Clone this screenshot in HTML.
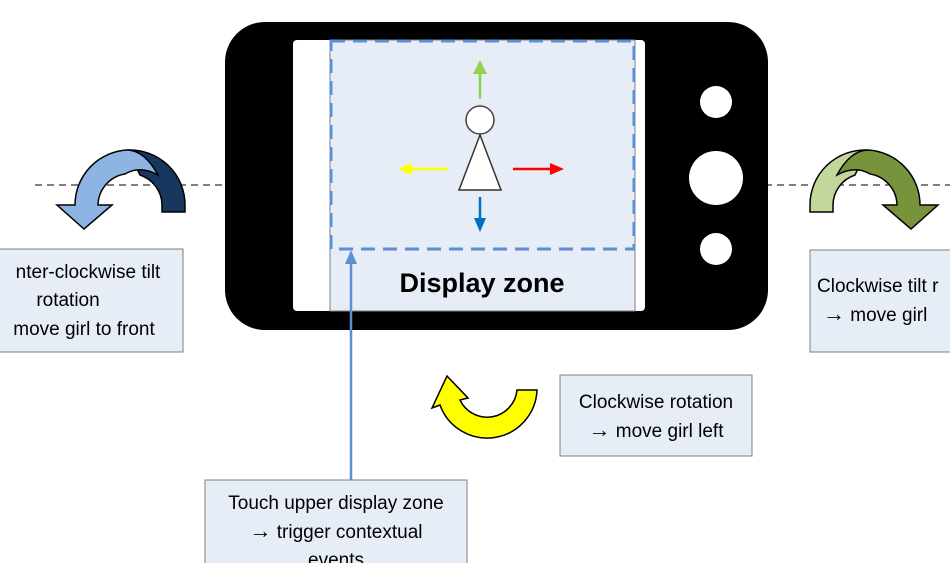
<!DOCTYPE html>
<html><head><meta charset="utf-8"><style>
html,body{margin:0;padding:0;background:#fff;}
svg{display:block;}
text{font-family:"Liberation Sans",sans-serif;fill:#000;}
</style></head><body>
<svg width="950" height="563" viewBox="0 0 950 563">
<line x1="35" y1="185" x2="230" y2="185" stroke="#000" stroke-dasharray="7,5"/>
<line x1="765" y1="185" x2="950" y2="185" stroke="#000" stroke-dasharray="7,5"/>
<rect x="225" y="22" width="543" height="308" rx="40" fill="#000"/>
<rect x="293" y="40" width="352" height="271" rx="4" fill="#fff"/>
<rect x="330" y="40" width="305" height="271" fill="#e6edf7" stroke="#7f7f7f"/>
<rect x="331" y="41" width="303" height="208" fill="none" stroke="#5b8fd6" stroke-width="3" stroke-dasharray="14,8"/>
<text x="482" y="292" font-size="27" font-weight="bold" text-anchor="middle">Display zone</text>
<circle cx="716" cy="102" r="16" fill="#fff"/>
<circle cx="716" cy="178" r="27" fill="#fff"/>
<circle cx="716" cy="249" r="16" fill="#fff"/>
<g>
<circle cx="480" cy="120" r="14" fill="#fff" stroke="#444" stroke-width="1.5"/>
<polygon points="480,135 459,190 501,190" fill="#fff" stroke="#333" stroke-width="1.5"/>
</g>
<g><line x1="480" y1="99" x2="480" y2="72" stroke="#92d050" stroke-width="2.5"/><polygon points="473,74 487,74 480,60" fill="#92d050"/></g>
<g><line x1="448" y1="169" x2="410" y2="169" stroke="#ffff00" stroke-width="2.5"/><polygon points="412,163 412,175 398,169" fill="#ffff00"/></g>
<g><line x1="513" y1="169" x2="552" y2="169" stroke="#ff0000" stroke-width="2.5"/><polygon points="550,163 550,175 564,169" fill="#ff0000"/></g>
<g><line x1="480" y1="197" x2="480" y2="220" stroke="#0070c0" stroke-width="2.5"/><polygon points="474,218 486,218 480,232" fill="#0070c0"/></g>
<g stroke="#000" stroke-width="1.5">
<path d="M128,150 A55,55 0 0 1 185,205 L185,212 L162,212 L162,205 A32,32 0 0 0 140,175 Z" fill="#17375e"/>
<path d="M75,205 A55,55 0 0 1 128,150 Q145,151 158,175 Q140,165 125,174 A32,32 0 0 0 98,205 L112,205 L84,229 L57,205 Z" fill="#8eb4e3"/>
</g>
<g transform="translate(995,0) scale(-1,1)" stroke="#000" stroke-width="1.5">
<path d="M128,150 A55,55 0 0 1 185,205 L185,212 L162,212 L162,205 A32,32 0 0 0 140,175 Z" fill="#c3d69b"/>
<path d="M75,205 A55,55 0 0 1 128,150 Q145,151 158,175 Q140,165 125,174 A32,32 0 0 0 98,205 L112,205 L84,229 L57,205 Z" fill="#77933c"/>
</g>
<path d="M537,390 A50,50 0 0 1 440,405 L432,408 L447,376 L468,398 L460,400 A30,30 0 0 0 517,390 Z" fill="#ffff00" stroke="#000" stroke-width="1.5"/>
<g><line x1="351" y1="480" x2="351" y2="262" stroke="#5b8fd6" stroke-width="2.5"/><polygon points="345,264 357,264 351,250" fill="#5b8fd6"/></g>
<g>
<rect x="-5" y="249" width="188" height="103" fill="#e6edf7" stroke="#7f7f7f"/>
<text x="88" y="278" font-size="19" text-anchor="middle">nter-clockwise tilt</text>
<text x="68" y="306" font-size="19" text-anchor="middle">rotation</text>
<text x="84" y="335" font-size="19" text-anchor="middle">move girl to front</text>
</g>
<g>
<rect x="810" y="250" width="160" height="102" fill="#e6edf7" stroke="#7f7f7f"/>
<text x="817" y="292" font-size="19">Clockwise tilt r</text>
<text x="823" y="321" font-size="19"><tspan font-size="22">→</tspan>  move girl</text>
</g>
<g>
<rect x="560" y="375" width="192" height="81" fill="#e6edf7" stroke="#7f7f7f"/>
<text x="656" y="408" font-size="19" text-anchor="middle">Clockwise rotation</text>
<text x="656" y="437" font-size="19" text-anchor="middle"><tspan font-size="22">→</tspan>  move girl left</text>
</g>
<g>
<rect x="205" y="480" width="262" height="95" fill="#e6edf7" stroke="#7f7f7f"/>
<text x="336" y="509" font-size="19" text-anchor="middle">Touch upper display zone</text>
<text x="336" y="538" font-size="19" text-anchor="middle"><tspan font-size="22">→</tspan> trigger contextual</text>
<text x="336" y="566" font-size="19" text-anchor="middle">events</text>
</g>
</svg>
</body></html>
